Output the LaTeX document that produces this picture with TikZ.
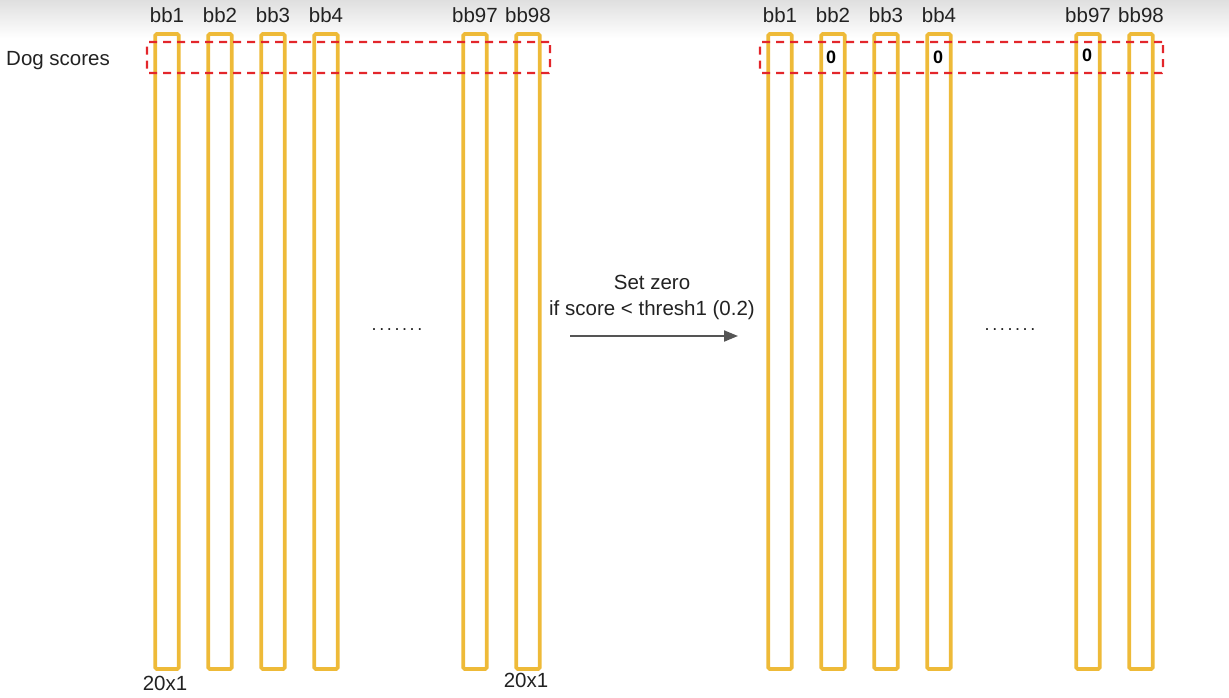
\documentclass[tikz,border=0pt]{standalone}
\usepackage{fontspec}
\setmainfont{Liberation Sans}
\usetikzlibrary{arrows.meta}
\definecolor{bargold}{HTML}{EEBA38}
\definecolor{dashred}{HTML}{E3262B}
\definecolor{arrowgray}{HTML}{555555}
\definecolor{textgray}{HTML}{222222}
\tikzset{
  scorebar/.style={draw=bargold, line width=3.8pt, rounded corners=1.5pt,
    minimum width=23.5pt, minimum height=635pt, inner sep=0pt},
  scorebox/.style={draw=dashred, line width=2.3pt, dash pattern=on 8pt off 6pt,
    rounded corners=1pt, minimum width=403pt, minimum height=31pt, inner sep=0pt},
  bblabel/.style={font=\fontsize{20.5}{24}\selectfont, text=textgray, inner sep=0pt},
  zerolabel/.style={font=\fontsize{18}{20}\selectfont\bfseries, text=black, inner sep=0pt},
  dotlabel/.style={font=\fontsize{18}{20}\selectfont, text=textgray, inner sep=0pt},
}

\begin{document}
\begin{tikzpicture}[x=1pt,y=-1pt]
\useasboundingbox (0,0) rectangle (1229,698);
\shade[top color=gray!25, bottom color=white] (0,0) rectangle (1229,38);

% left: all scores
\foreach \x/\n in {167/1,220/2,273/3,326/4,475/97,528/98}{
  \node[scorebar] (l\n) at (\x,351.5) {};
  \node[bblabel] (lt\n) at (\x,15) {bb\n};
}
\node[scorebox] (lbox) at (348.5,57.5) {};
\node[bblabel, anchor=west] (dog) at (6,61) {Dog scores};
\node[dotlabel] (ldots) at (397,330) {.\kern2.6pt.\kern2.6pt.\kern2.6pt.\kern2.6pt.\kern2.6pt.\kern2.6pt.};
\node[bblabel] (ldim1) at (165,683) {20x1};
\node[bblabel] (ldim2) at (526,680) {20x1};

% arrow
\node[bblabel, align=center, font=\fontsize{20.5}{26}\selectfont] (cap) at (652,297)
  {Set zero\\if score < thresh1 (0.2)};
\coordinate (arrs) at (570,336);
\coordinate (arre) at (738,336);
\draw[arrowgray, line width=2pt, -{Triangle[length=14pt,width=11pt]}] (arrs) -- (arre);

% right: thresholded scores
\foreach \x/\n in {780/1,833/2,886/3,939/4,1088/97,1141/98}{
  \node[scorebar] (r\n) at (\x,351.5) {};
  \node[bblabel] (rt\n) at (\x,15) {bb\n};
}
\node[scorebox] (rbox) at (961.5,57.5) {};
\node[zerolabel] (z2) at (831,57) {0};
\node[zerolabel] (z4) at (938,57) {0};
\node[zerolabel] (z97) at (1087,55) {0};
\node[dotlabel] (rdots) at (1010,330) {.\kern2.6pt.\kern2.6pt.\kern2.6pt.\kern2.6pt.\kern2.6pt.\kern2.6pt.};
\end{tikzpicture}
\end{document}
